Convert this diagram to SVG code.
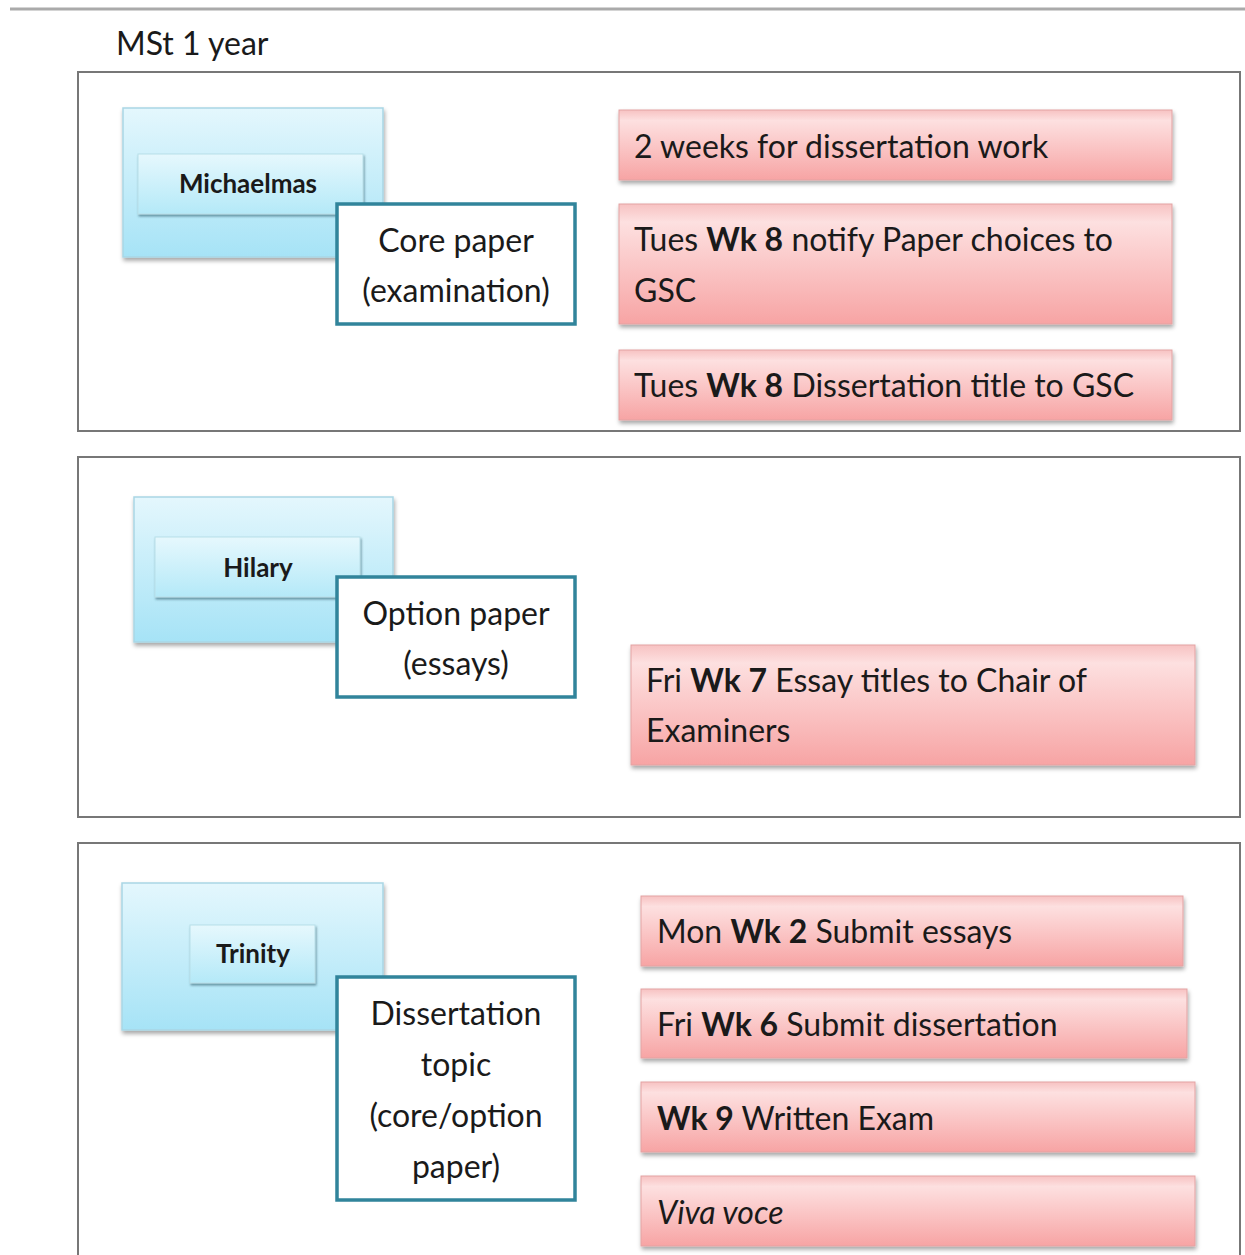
<svg xmlns="http://www.w3.org/2000/svg" width="1245" height="1255" viewBox="0 0 1245 1255">
<defs>
<linearGradient id="gBlue" x1="0" y1="0" x2="0" y2="1">
<stop offset="0" stop-color="#e4f7fd"/>
<stop offset="1" stop-color="#a6e3f6"/>
</linearGradient>
<linearGradient id="gBlueIn" x1="0" y1="0" x2="0" y2="1">
<stop offset="0" stop-color="#e6f8fd"/>
<stop offset="1" stop-color="#b4e9f8"/>
</linearGradient>
<linearGradient id="gRed" x1="0" y1="0" x2="0" y2="1">
<stop offset="0" stop-color="#f7c2c2"/>
<stop offset="0.15" stop-color="#fde0e0"/>
<stop offset="1" stop-color="#f7a4a4"/>
</linearGradient>
<filter id="sh" x="-5%" y="-10%" width="112%" height="130%">
<feDropShadow dx="1" dy="3" stdDeviation="2" flood-color="#000" flood-opacity="0.35"/>
</filter>
<filter id="shIn" x="-5%" y="-10%" width="112%" height="130%">
<feDropShadow dx="1" dy="2" stdDeviation="1" flood-color="#2a5a6a" flood-opacity="0.6"/>
</filter>
</defs>
<style>
.frame{fill:none;stroke:#777;stroke-width:2}
.term{fill:url(#gBlue);stroke:#a9d6e5;stroke-width:1.5;filter:url(#sh)}
.lbl{fill:url(#gBlueIn);stroke:#b8dfe9;stroke-width:1;filter:url(#shIn)}
.paper{fill:#fff;stroke:#31849b;stroke-width:3.5}
.task{fill:url(#gRed);stroke:#e3a3a3;stroke-width:1;filter:url(#sh)}
text{font-family:Lato,"Liberation Sans",sans-serif;fill:#1a1a1a}
.tl{font-size:26px;font-weight:bold;text-anchor:middle}
.pt{font-size:32px;text-anchor:middle}
.tk{font-size:32px}
.b{font-weight:bold}
</style>
<line x1="10" y1="9" x2="1245" y2="9" stroke="#aaa" stroke-width="3"/>
<text x="116" y="55" style="font-size:32px">MSt 1 year</text>
<g id="frames">
<rect class="frame" x="78" y="72" width="1162" height="359"/>
<rect class="frame" x="78" y="457" width="1162" height="360"/>
<path class="frame" d="M78 1256 V843 H1240 V1256"/>
</g>
<g id="connectors"></g>
<g id="michaelmas">
<rect class="term" x="123" y="108" width="260" height="149"/>
<rect class="lbl" x="138" y="154" width="225" height="60"/>
<text class="tl" x="248" y="193">Michaelmas</text>
</g>
<g id="core-paper">
<rect class="paper" x="337" y="204" width="238" height="120"/>
<text class="pt" x="456" y="252">Core paper</text>
<text class="pt" x="456" y="302">(examination)</text>
</g>
<g id="task-2weeks">
<rect class="task" x="619" y="110" width="553" height="70"/>
<text class="tk" x="634" y="158">2 weeks for dissertation work</text>
</g>
<g id="task-paper-choices">
<rect class="task" x="619" y="204" width="553" height="120"/>
<text class="tk" x="634" y="251">Tues <tspan class="b">Wk 8</tspan> notify Paper choices to</text>
<text class="tk" x="634" y="302">GSC</text>
</g>
<g id="task-diss-title">
<rect class="task" x="619" y="350" width="553" height="70"/>
<text class="tk" x="634" y="397">Tues <tspan class="b">Wk 8</tspan> Dissertation title to GSC</text>
</g>
<g id="hilary">
<rect class="term" x="134" y="497" width="259" height="145"/>
<rect class="lbl" x="155" y="537" width="205" height="60"/>
<text class="tl" x="258" y="577">Hilary</text>
</g>
<g id="option-paper">
<rect class="paper" x="337" y="577" width="238" height="120"/>
<text class="pt" x="456" y="625">Option paper</text>
<text class="pt" x="456" y="675">(essays)</text>
</g>
<g id="task-essay-titles">
<rect class="task" x="631" y="645" width="564" height="120"/>
<text class="tk" x="646" y="692">Fri <tspan class="b">Wk 7</tspan> Essay titles to Chair of</text>
<text class="tk" x="646" y="742">Examiners</text>
</g>
<g id="trinity">
<rect class="term" x="122" y="883" width="261" height="147"/>
<rect class="lbl" x="190" y="925" width="125" height="58"/>
<text class="tl" x="253" y="963">Trinity</text>
</g>
<g id="dissertation-topic">
<rect class="paper" x="337" y="977" width="238" height="223"/>
<text class="pt" x="456" y="1025">Dissertation</text>
<text class="pt" x="456" y="1076">topic</text>
<text class="pt" x="456" y="1127">(core/option</text>
<text class="pt" x="456" y="1178">paper)</text>
</g>
<g id="task-submit-essays">
<rect class="task" x="641" y="896" width="542" height="70"/>
<text class="tk" x="657" y="943">Mon <tspan class="b">Wk 2</tspan> Submit essays</text>
</g>
<g id="task-submit-diss">
<rect class="task" x="641" y="989" width="546" height="69"/>
<text class="tk" x="657" y="1036">Fri <tspan class="b">Wk 6</tspan> Submit dissertation</text>
</g>
<g id="task-exam">
<rect class="task" x="641" y="1082" width="554" height="70"/>
<text class="tk" x="657" y="1130"><tspan class="b">Wk 9</tspan> Written Exam</text>
</g>
<g id="task-viva">
<rect class="task" x="641" y="1176" width="554" height="70"/>
<text class="tk" x="657" y="1224" font-style="italic">Viva voce</text>
</g>
</svg>
